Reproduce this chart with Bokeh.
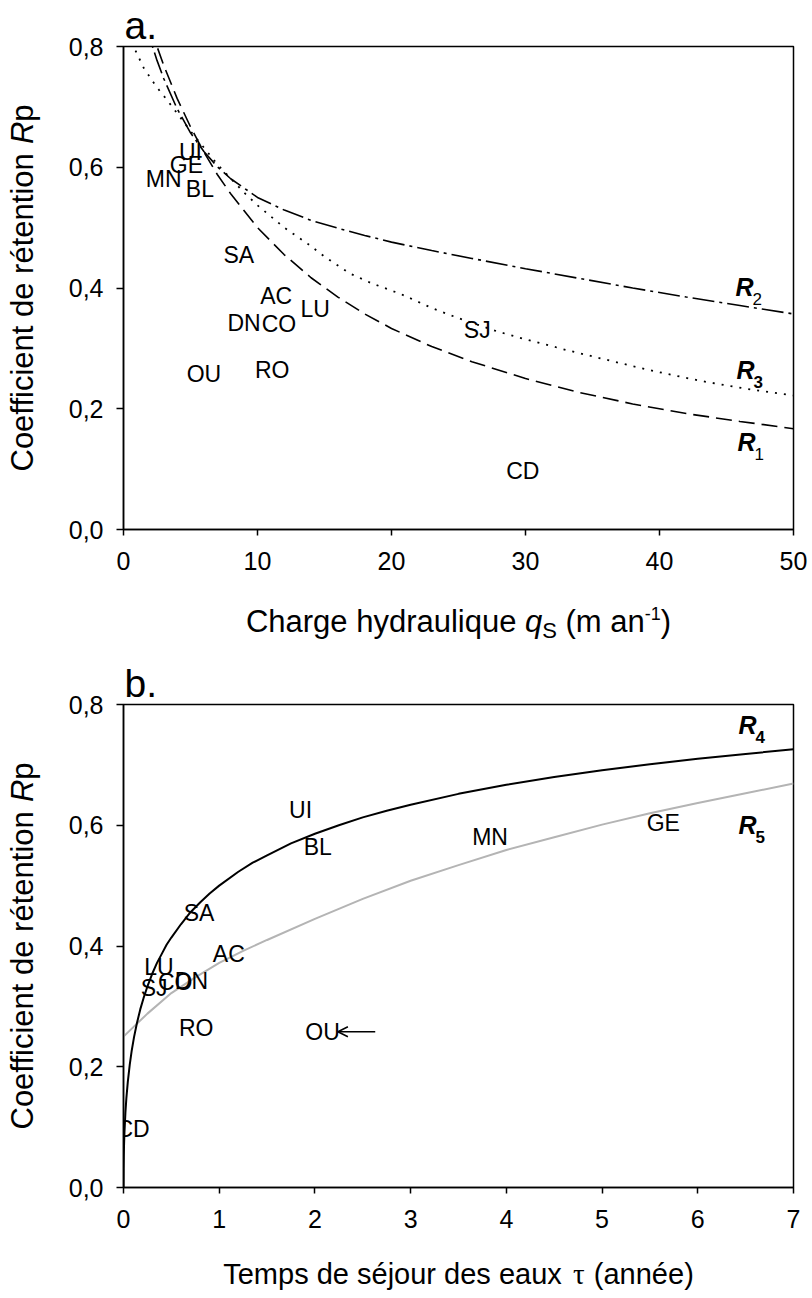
import math
from bokeh.plotting import figure
from bokeh.layouts import column, row
from bokeh.models import (Range1d, FixedTicker, CustomJSTickFormatter, Label, LabelSet,
                          Arrow, OpenHead, ColumnDataSource)
from bokeh.core.properties import value
from bokeh.embed import file_html
from bokeh.resources import INLINE

# ---------------- data ----------------
lakes = ["UI", "GE", "MN", "BL", "SA", "AC", "DN", "CO", "LU", "OU", "RO", "SJ", "CD"]
rp    = [0.626, 0.604, 0.580, 0.564, 0.454, 0.387, 0.342, 0.341, 0.366, 0.258, 0.265, 0.330, 0.097]
qs    = [5.0, 4.7, 3.0, 5.7, 8.6, 11.4, 9.0, 11.6, 14.3, 6.0, 11.1, 26.4, 29.8]
tau   = [1.85, 5.64, 3.83, 2.03, 0.79, 1.10, 0.71, 0.54, 0.37, 2.08, 0.76, 0.32, 0.10]

# panel a curves (Rp versus qs)
r1_q = [2.0, 2.5, 3, 4, 5, 6, 7, 8, 10, 12, 14, 16, 18, 20, 23, 26, 30, 34, 38, 42, 46, 50]
r1_r = [0.833, 0.800, 0.769, 0.714, 0.667, 0.625, 0.588, 0.556, 0.500, 0.455, 0.417, 0.385,
        0.357, 0.333, 0.303, 0.278, 0.250, 0.227, 0.208, 0.192, 0.179, 0.167]
r2_q = [1.5, 2, 2.5, 3, 4, 5, 6, 7, 8, 10, 12, 14, 16, 18, 20, 23, 26, 30, 34, 38, 42, 46, 50]
r2_r = [0.845, 0.811, 0.777, 0.747, 0.697, 0.657, 0.626, 0.601, 0.581, 0.550, 0.529, 0.512,
        0.499, 0.487, 0.476, 0.462, 0.449, 0.432, 0.416, 0.400, 0.385, 0.371, 0.357]
r3_q = [0.3, 0.75, 1.5, 2.4, 3.3, 5, 7, 9, 10, 12, 13.7, 15, 16.9, 18.5, 20.7, 23.1, 25, 27.9,
        30, 33.1, 35.5, 38.1, 40.5, 43.1, 46.5, 50]
r3_r = [0.82, 0.80, 0.765, 0.735, 0.71, 0.66, 0.605, 0.558, 0.537, 0.50, 0.474, 0.452, 0.424,
        0.408, 0.390, 0.366, 0.350, 0.328, 0.315, 0.297, 0.284, 0.270, 0.258, 0.246, 0.233, 0.222]

# panel b curves (Rp versus tau)
r4_t = [0, 0.001, 0.003, 0.006, 0.01, 0.02, 0.03, 0.045, 0.065, 0.085, 0.11, 0.14, 0.175, 0.21,
        0.25, 0.3, 0.35, 0.4, 0.45, 0.5, 0.6, 0.7, 0.8, 0.9, 1.0, 1.2, 1.35, 1.5, 1.75, 2.0,
        2.25, 2.5, 2.75, 3.0, 3.5, 4.0, 4.5, 5.0, 5.5, 6.0, 6.5, 7.0]
r4_r = [0.0, 0.031, 0.052, 0.072, 0.091, 0.124, 0.148, 0.175, 0.203, 0.226, 0.249, 0.272,
        0.295, 0.314, 0.333, 0.354, 0.372, 0.387, 0.402, 0.414, 0.436, 0.456, 0.472, 0.487,
        0.500, 0.523, 0.538, 0.550, 0.570, 0.586, 0.600, 0.613, 0.624, 0.634, 0.652, 0.667,
        0.680, 0.691, 0.701, 0.710, 0.718, 0.726]
r5_t = [0, 0.25, 0.5, 0.75, 1.0, 1.25, 1.5, 2.0, 2.5, 3.0, 3.5, 4.0, 4.5, 5.0, 5.5, 6.0, 6.5, 7.0]
r5_r = [0.250, 0.288, 0.322, 0.348, 0.372, 0.392, 0.410, 0.445, 0.478, 0.508, 0.534, 0.559,
        0.580, 0.601, 0.620, 0.637, 0.653, 0.669]

# arrow next to OU in panel b (tau values)
ou_arrow_from = 2.63
ou_arrow_to = 2.24

x_ticks_a = [0, 10, 20, 30, 40, 50]
x_ticks_b = [0, 1, 2, 3, 4, 5, 6, 7]
y_ticks = [0.0, 0.2, 0.4, 0.6, 0.8]

# ---------------- layout ----------------
FONT = "Liberation Sans"
W = 812
YW = 60                       # width of the y-title strip
PW = W - YW                   # width of the plot figures
PLEFT, RIGHT, PBOTTOM = 63, 19, 55
FW, FH = 670, 483             # frame size
TOP_A, TOP_B = 46, 60
XT_A, XT_B = 60, 56           # heights of the x-title strips
HA = TOP_A + FH + PBOTTOM + XT_A   # 644
HB = TOP_B + FH + PBOTTOM + XT_B   # 654
MID = 0.35                    # baseline -> visual middle, in em

ARIAL = {' ': 278, '(': 333, ')': 333, '-': 333, '1': 556, 'C': 722, 'R': 722, 'S': 667,
         'T': 611, 'a': 556, 'c': 500, 'd': 556, 'e': 556, 'é': 556, 'f': 278, 'g': 556,
         'h': 556, 'i': 222, 'j': 222, 'l': 222, 'm': 833, 'n': 556, 'o': 556, 'p': 556,
         'q': 556, 'r': 333, 's': 500, 't': 278, 'u': 556, 'x': 500, 'y': 500, 'τ': 440}


def tw(s, size):
    return sum(ARIAL.get(c, 556) for c in s) / 1000.0 * size


def base_fig(w, h, **kw):
    f = figure(width=w, height=h, output_backend="svg", toolbar_location=None, **kw)
    f.background_fill_color = "white"
    f.border_fill_color = "white"
    return f


def text_fig(w, h, left=0, right=0):
    # frame = canvas minus left/right borders; data units = pixels inside the frame
    f = base_fig(w, h, x_range=Range1d(0, w - left - right), y_range=Range1d(0, h),
                 x_axis_type=None, y_axis_type=None,
                 min_border_left=left, min_border_right=right,
                 min_border_top=0, min_border_bottom=0)
    f.outline_line_color = None
    f.title.visible = False
    return f


def add_label(p, x, y, text, size, style="normal", font=FONT, angle=0.0, align="left",
              baseline="middle"):
    p.add_layout(Label(x=x, y=y, text=text, text_font=font, text_font_size=f"{size}px",
                       text_font_style=style, text_color="black", angle=angle,
                       text_align=align, text_baseline=baseline))


def make_plot(xmax, top, xticks, letter):
    p = base_fig(PW, top + FH + PBOTTOM, x_range=Range1d(0, xmax), y_range=Range1d(0, 0.8),
                 min_border_left=PLEFT, min_border_right=RIGHT,
                 min_border_top=top, min_border_bottom=PBOTTOM)
    p.grid.visible = False
    p.outline_line_color = "black"
    p.outline_line_width = 1.5
    p.xaxis.ticker = FixedTicker(ticks=xticks)
    p.yaxis.ticker = FixedTicker(ticks=y_ticks)
    p.yaxis.formatter = CustomJSTickFormatter(code="return tick.toFixed(1).replace('.', ',');")
    p.xaxis.formatter = CustomJSTickFormatter(code="return tick.toFixed(0);")
    for ax, tout in ((p.xaxis, 6), (p.yaxis, 7)):
        ax.major_tick_in = 0
        ax.major_tick_out = tout
        ax.minor_tick_line_color = None
        ax.axis_line_width = 1.5
        ax.major_tick_line_width = 1.5
        ax.axis_line_color = "black"
        ax.major_tick_line_color = "black"
        ax.major_label_text_font = FONT
        ax.major_label_text_font_size = "25px"
        ax.major_label_text_color = "black"
    p.xaxis.major_label_standoff = 16
    p.yaxis.major_label_standoff = 13
    p.title.text = letter
    p.title.text_font = FONT
    p.title.text_font_size = "39px"
    p.title.text_font_style = "normal"
    p.title.text_color = "black"
    p.title.align = "left"
    p.title.offset = 1
    p.title.standoff = 0
    return p


def add_curve_labels(p, xmax, top, items):
    def dx(px):
        return (px - 123) / FW * xmax

    def dy(py):
        return (top + FH - py) / FH * 0.8
    for sub, left, bl, subbold in items:
        add_label(p, dx(left), dy(bl - MID * 25), "R", 25, style="bold italic")
        add_label(p, dx(left + 17), dy(bl + 9 - MID * 17), sub, 17,
                  style="bold" if subbold else "normal")


def y_title_fig(h, top, size):
    f = text_fig(YW, h)
    segs = [("Coefficient de rétention", "normal", 0.278), ("R", "italic", 0), ("p", "normal", 0)]
    total = sum(tw(s, size) + sp * size for s, _, sp in segs)
    pos = top + FH / 2 + total / 2          # px from the top of the block
    for s, st, sp in segs:
        add_label(f, 33 - MID * size, h - pos, s, size, style=st, angle=math.pi / 2)
        pos -= tw(s, size) + sp * size
    return f


def x_title_fig(segs, height, baseline_from_top):
    # segs: (leading_space_em, text, size, style, baseline_offset, font)
    f = text_fig(PW, height, left=PLEFT, right=RIGHT)
    total = sum(lead * sz + tw(s, sz) for lead, s, sz, _, _, _ in segs)
    xpos = FW / 2 - total / 2
    base = height - baseline_from_top
    for lead, s, sz, st, off, fnt in segs:
        xpos += lead * sz
        add_label(f, xpos, base - off + MID * sz, s, sz, style=st, font=fnt)
        xpos += tw(s, sz)
    return f


def lake_labels(p, xs):
    src = ColumnDataSource(dict(x=xs, y=rp, t=lakes))
    p.add_layout(LabelSet(x="x", y="y", text="t", source=src, text_align="center",
                          text_baseline="middle", text_font=value(FONT),
                          text_font_size=value("23px"), text_color="black"))


# ---------------- panel a ----------------
pa = make_plot(50, TOP_A, x_ticks_a, "a.")
pa.line(r1_q, r1_r, line_color="black", line_width=1.6, line_dash="16 7")
pa.line(r2_q, r2_r, line_color="black", line_width=1.6, line_dash="22 5 3 5")
pa.line(r3_q, r3_r, line_color="black", line_width=1.8, line_dash="2 7")
lake_labels(pa, qs)
add_curve_labels(pa, 50, TOP_A, [("2", 735, 295, False), ("3", 736, 378, True),
                                 ("1", 737, 450, False)])
xa = x_title_fig([(0, "Charge hydraulique", 31, "normal", 0, FONT),
                  (0.278, "q", 31, "italic", 0, FONT),
                  (0, "S", 22, "normal", 6, FONT),
                  (0.278, "(m an", 31, "normal", 0, FONT),
                  (0, "-1", 18, "normal", -13, FONT),
                  (0, ")", 31, "normal", 0, FONT)],
                 XT_A, baseline_from_top=48)
ya = y_title_fig(HA, TOP_A, 31)

# ---------------- panel b ----------------
pb = make_plot(7, TOP_B, x_ticks_b, "b.")
pb.line(r5_t, r5_r, line_color="#b4b4b4", line_width=2)
pb.line(r4_t, r4_r, line_color="black", line_width=2)
lake_labels(pb, tau)
ou_y = rp[lakes.index("OU")]
pb.add_layout(Arrow(x_start=ou_arrow_from, y_start=ou_y, x_end=ou_arrow_to, y_end=ou_y,
                    line_color="black", line_width=1.5,
                    end=OpenHead(size=10, line_color="black", line_width=1.5)))
add_curve_labels(pb, 7, TOP_B, [("4", 738, 733 - 644, True), ("5", 738, 833 - 644, True)])
xb = x_title_fig([(0, "Temps de séjour des eaux", 29, "normal", 0, FONT),
                  (0.278, "τ", 29, "normal", 0, "Liberation Serif"),
                  (0.278, "(année)", 29, "normal", 0, FONT)],
                 XT_B, baseline_from_top=42)
yb = y_title_fig(HB, TOP_B, 31)

layout = column(row(ya, column(pa, xa, spacing=0), spacing=0),
                row(yb, column(pb, xb, spacing=0), spacing=0), spacing=0)
open("out.html", "w").write(file_html(layout, INLINE))
